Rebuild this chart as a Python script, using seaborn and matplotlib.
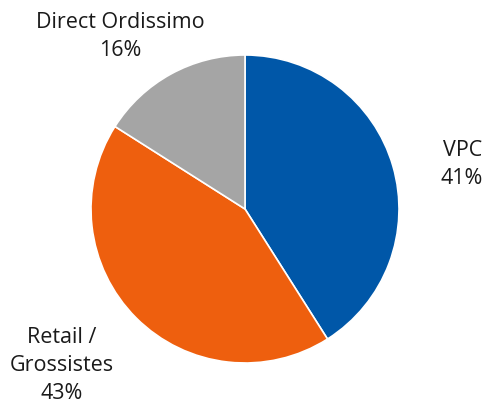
import matplotlib.pyplot as plt
import seaborn as sns

labels = ['VPC', 'Retail /\nGrossistes', 'Direct Ordissimo']
shares = [41, 43, 16]
colors = ['#0057A8', '#EE5F0E', '#A5A5A5']
# label centres, in units of the pie radius
label_x = [1.41, -1.19, -0.81]
label_y = [0.29, -1.015, 1.12]

sns.set_style("white")
plt.rcParams['font.family'] = ['Open Sans', 'DejaVu Sans']

fig = plt.figure(figsize=(4.88, 4.08), dpi=100)
ax = fig.add_axes([91 / 488, 45 / 408, 308 / 488, 308 / 408])

ax.pie(shares, colors=colors, startangle=90, counterclock=False,
       wedgeprops=dict(edgecolor='white', linewidth=1.2))
ax.set_xlim(-1, 1)
ax.set_ylim(-1, 1)
ax.set_aspect('equal')

for lab, val, x, y in zip(labels, shares, label_x, label_y):
    ax.text(x, y, f'{lab}\n{val}%', ha='center', va='center', fontsize=15.5,
            color='#1a1a1a', linespacing=1.45, clip_on=False)

fig.savefig('out.png', dpi=100)
